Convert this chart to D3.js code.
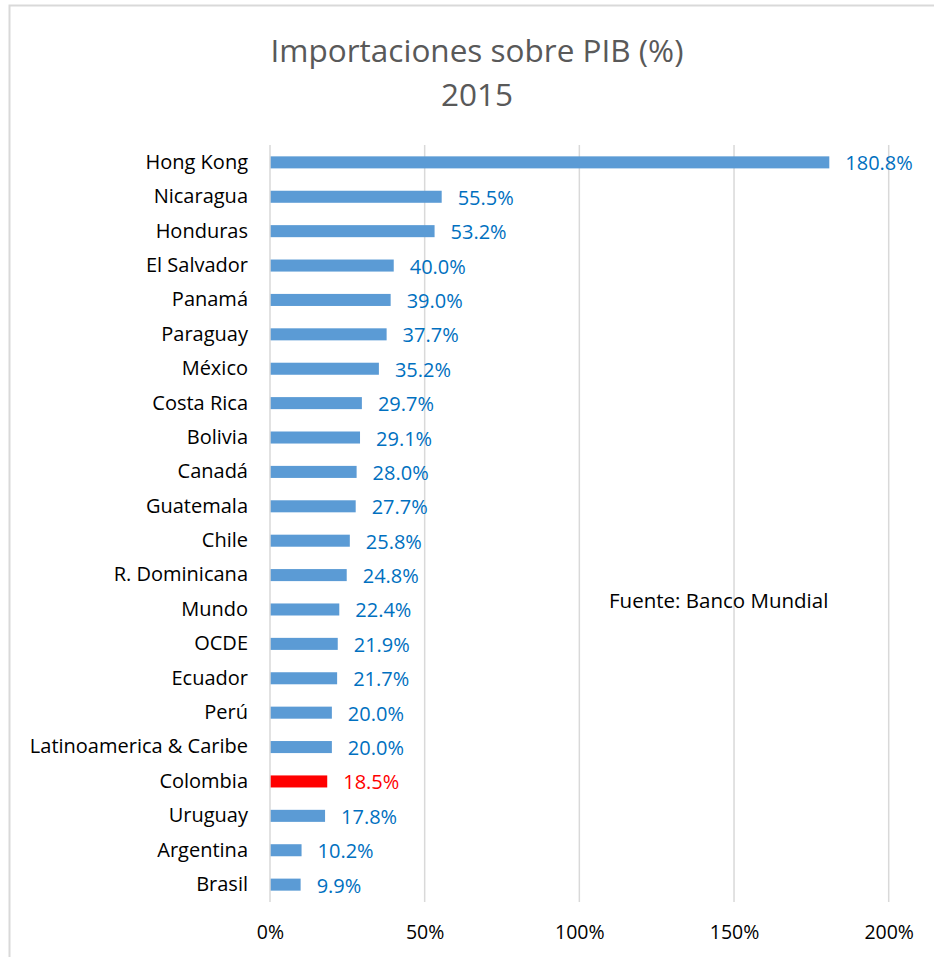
<!DOCTYPE html>
<html>
<head>
<meta charset="utf-8">
<script src="https://cdn.jsdelivr.net/npm/d3@7"></script>
<style>
  body { margin: 0; background: #fff; }
  text { font-family: "Open Sans", sans-serif; }
</style>
</head>
<body>
<script>
"use strict";
const countries = ["Hong Kong", "Nicaragua", "Honduras", "El Salvador", "Panamá", "Paraguay",
  "México", "Costa Rica", "Bolivia", "Canadá", "Guatemala", "Chile", "R. Dominicana", "Mundo",
  "OCDE", "Ecuador", "Perú", "Latinoamerica & Caribe", "Colombia", "Uruguay", "Argentina", "Brasil"];
const values = [180.8, 55.5, 53.2, 40.0, 39.0, 37.7, 35.2, 29.7, 29.1, 28.0, 27.7, 25.8, 24.8,
  22.4, 21.9, 21.7, 20.0, 20.0, 18.5, 17.8, 10.2, 9.9];
const highlight = "Colombia";
const xTicks = [0, 50, 100, 150, 200];
const titleLines = ["Importaciones sobre PIB (%)", "2015"];
const source = "Fuente: Banco Mundial";

const measurements = { width: 934, height: 957, left: 270, right: 888.7, top: 145, bottom: 902 };

const data = countries.map((c, i) => ({ name: c, value: values[i] }));

const svg = d3.select("body").append("svg")
  .attr("width", measurements.width)
  .attr("height", measurements.height);

// chart border
svg.append("rect")
  .attr("x", 9.5).attr("y", 5.5)
  .attr("width", 940).attr("height", 960)
  .attr("fill", "none").attr("stroke", "#d9d9d9").attr("stroke-width", 2);

const x = d3.scaleLinear().domain([0, 200]).range([measurements.left, measurements.right]);
const y = d3.scaleBand().domain(countries)
  .range([measurements.top, measurements.bottom]).paddingInner(0.65).paddingOuter(0.33);

// title
svg.append("g").selectAll("text")
  .data(titleLines).enter().append("text")
  .attr("x", 477).attr("y", (d, i) => 62 + i * 44)
  .attr("text-anchor", "middle")
  .style("font-size", "31.5px").attr("fill", "#595959")
  .text(d => d);

// gridlines
svg.append("g").selectAll("line")
  .data(xTicks.slice(1)).enter().append("line")
  .attr("x1", d => x(d)).attr("x2", d => x(d))
  .attr("y1", measurements.top).attr("y2", measurements.bottom)
  .attr("stroke", "#d9d9d9").attr("stroke-width", 1.5);

// x axis
const xAxis = d3.axisBottom(x).tickValues(xTicks).tickSize(0).tickFormat(d => d + "%");
const gx = svg.append("g")
  .attr("transform", `translate(0,${measurements.bottom + 20})`)
  .call(xAxis);
gx.select(".domain").remove();
gx.selectAll("text").style("font-size", "19.5px").attr("fill", "#000");

// bars
svg.append("g").selectAll("rect")
  .data(data).enter().append("rect")
  .attr("x", x(0))
  .attr("y", d => y(d.name))
  .attr("width", d => x(d.value) - x(0))
  .attr("height", y.bandwidth())
  .attr("fill", d => d.name === highlight ? "#ff0000" : "#5b9bd5");

// y axis line
svg.append("line")
  .attr("x1", x(0)).attr("x2", x(0))
  .attr("y1", measurements.top).attr("y2", measurements.bottom)
  .attr("stroke", "#d9d9d9").attr("stroke-width", 1.5);

// category labels
const yAxis = d3.axisLeft(y).tickSize(0).tickPadding(22);
const gy = svg.append("g").attr("transform", `translate(${x(0)},0)`).call(yAxis);
gy.select(".domain").remove();
gy.selectAll("text").style("font-size", "20px").attr("fill", "#000");

// value labels
svg.append("g").selectAll("text")
  .data(data).enter().append("text")
  .attr("x", d => x(d.value) + 16)
  .attr("y", d => y(d.name) + y.bandwidth() / 2)
  .attr("dy", "0.4em")
  .style("font-size", "20px")
  .attr("fill", d => d.name === highlight ? "#ff0000" : "#0070c0")
  .text(d => d.value.toFixed(1) + "%");

svg.append("text")
  .attr("x", 609).attr("y", 601).attr("dy", "0.35em")
  .style("font-size", "20.5px").attr("fill", "#000")
  .text(source);
</script>
</body>
</html>
